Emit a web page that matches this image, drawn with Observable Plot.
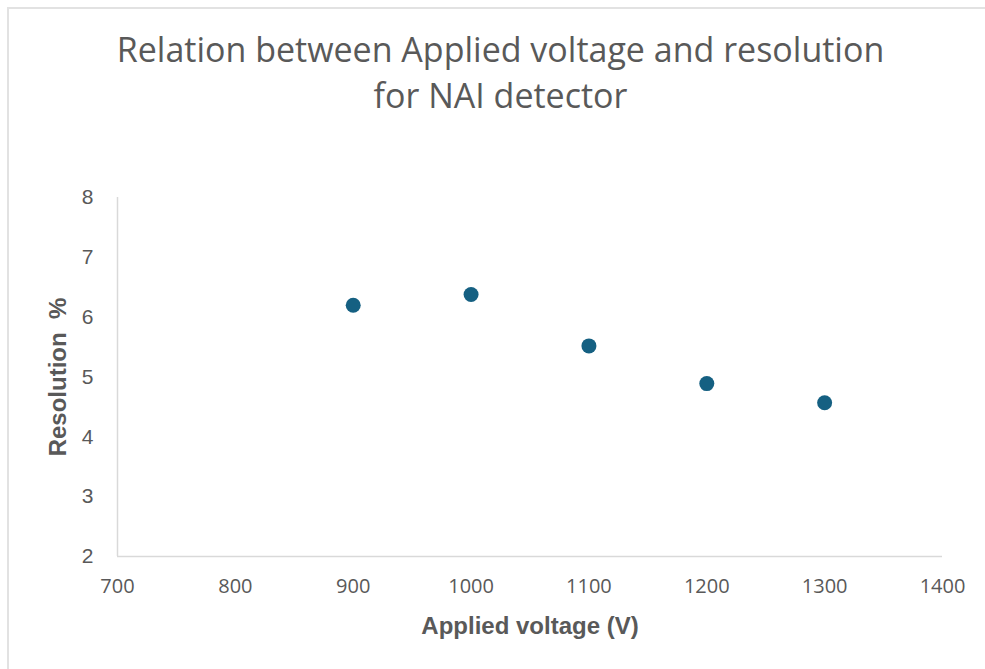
<!DOCTYPE html>
<html>
<head>
<meta charset="utf-8">
<script src="https://cdn.jsdelivr.net/npm/d3@7"></script>
<script src="https://cdn.jsdelivr.net/npm/@observablehq/plot@0.6"></script>
<style>
  html, body { margin: 0; padding: 0; background: #fff; }
  #wrap { position: relative; width: 985px; height: 669px; overflow: hidden; }
  #frame { position: absolute; left: 7px; top: 7px; width: 1000px; height: 700px; border-top: 2px solid #e2e2e2; border-left: 2px solid #e2e2e2; box-sizing: border-box; pointer-events: none; }
  #title { position: absolute; left: 0; top: 26px; width: 1001px; text-align: center; color: #595959;
    font-family: "Open Sans", "Liberation Sans", sans-serif; font-size: 34px; line-height: 46px; }
  #chart { position: absolute; left: 0; top: 150px; }
</style>
</head>
<body>
<div id="wrap">
  <div id="frame"></div>
  <div id="title">Relation between Applied voltage and resolution<br>for NAI detector</div>
  <div id="chart"></div>
</div>
<script>
const voltages = [900, 1000, 1100, 1200, 1300];
const resolution = [6.20, 6.38, 5.52, 4.89, 4.57];
const xTicks = [700, 800, 900, 1000, 1100, 1200, 1300, 1400];
const yTicks = [2, 3, 4, 5, 6, 7, 8];
const xTitle = "Applied voltage (V)";
const yTitle = "Resolution\u00a0 %";

const data = voltages.map((v, i) => ({v, r: resolution[i]}));

const plot = Plot.plot({
  width: 985,
  height: 519,
  marginLeft: 117,
  marginRight: 43,
  marginTop: 47,
  marginBottom: 113,
  style: {background: "transparent", color: "#595959", overflow: "visible"},
  x: {domain: [700, 1400]},
  y: {domain: [2, 8]},
  marks: [
    Plot.ruleY([2], {stroke: "#d9d9d9", strokeWidth: 1.5}),
    Plot.ruleX([700], {stroke: "#d9d9d9", strokeWidth: 1.5}),
    Plot.axisX({ticks: xTicks, tickFormat: d => String(d), tickSize: 0, tickPadding: 22, label: null, fontSize: 20,
      fontFamily: "Open Sans, Liberation Sans, sans-serif", fill: "#595959"}),
    Plot.axisY({ticks: yTicks, tickFormat: d => String(d), tickSize: 0, tickPadding: 24, label: null, fontSize: 21,
      fontFamily: "Liberation Sans, Arial, sans-serif", fill: "#595959"}),
    Plot.dot(data, {x: "v", y: "r", r: 7.5, fill: "#156082", stroke: "none"}),
    Plot.text([xTitle], {frameAnchor: "bottom", lineAnchor: "middle", textAnchor: "middle", dy: 70, fontSize: 24, fontWeight: "bold", fill: "#595959",
      fontFamily: "Liberation Sans, Arial, sans-serif"}),
    Plot.text([yTitle], {frameAnchor: "left", textAnchor: "middle", lineAnchor: "middle", dx: -59, rotate: -90, fontSize: 24, fontWeight: "bold", fill: "#595959",
      fontFamily: "Liberation Sans, Arial, sans-serif"})
  ]
});
document.getElementById("chart").appendChild(plot);
</script>
</body>
</html>
